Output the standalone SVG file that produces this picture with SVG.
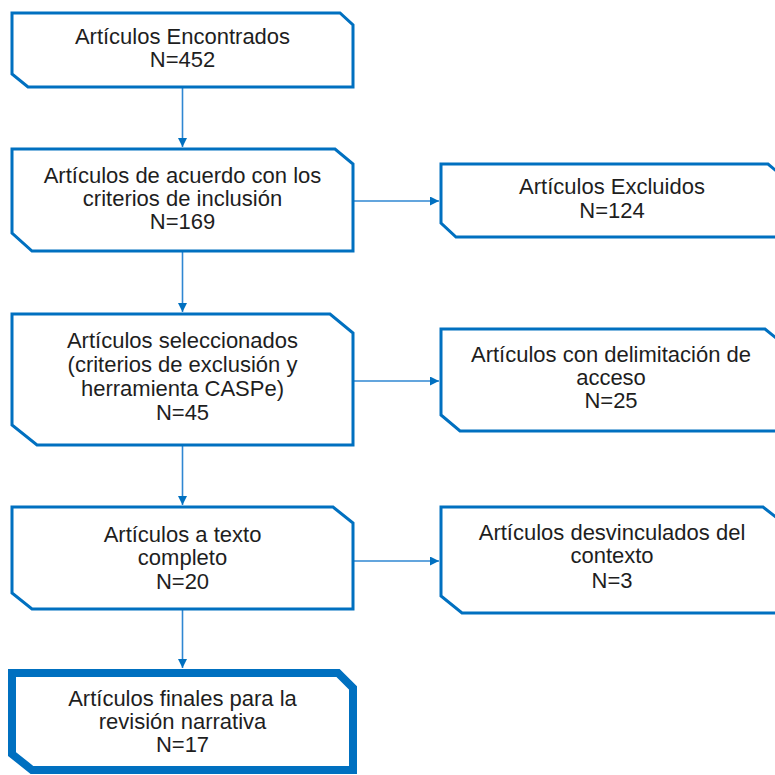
<svg xmlns="http://www.w3.org/2000/svg" width="775" height="775" viewBox="0 0 775 775">
<defs>
<style>
.box{fill:#ffffff;stroke:#0070C0;stroke-width:3;stroke-linejoin:miter}
.final{fill:#ffffff;stroke:#0070C0;stroke-width:8;stroke-linejoin:miter}
.conn{fill:none;stroke:#2F87D2;stroke-width:1.6}
text{font-family:"Liberation Sans",Arial,sans-serif;font-size:22px;fill:#1e1e1e;text-anchor:middle}
</style>
<marker id="arr" viewBox="0 0 10 10" refX="10" refY="5" markerWidth="10" markerHeight="9" markerUnits="userSpaceOnUse" orient="auto">
<path d="M0,0 L10,5 L0,10 z" fill="#0070C0"/>
</marker>
</defs>
<rect width="775" height="775" fill="#ffffff"/>
<g id="connectors">
<line class="conn" x1="182.5" y1="88" x2="182.5" y2="147" marker-end="url(#arr)"/>
<line class="conn" x1="182.5" y1="252" x2="182.5" y2="312" marker-end="url(#arr)"/>
<line class="conn" x1="182.5" y1="446" x2="182.5" y2="505" marker-end="url(#arr)"/>
<line class="conn" x1="182.5" y1="610" x2="182.5" y2="668" marker-end="url(#arr)"/>
<line class="conn" x1="354" y1="201" x2="439" y2="201" marker-end="url(#arr)"/>
<line class="conn" x1="354" y1="381" x2="439" y2="381" marker-end="url(#arr)"/>
<line class="conn" x1="354" y1="561" x2="439" y2="561" marker-end="url(#arr)"/>
</g>
<g id="n1">
<path class="box" d="M12,13 H340 L353,25 V87 H28 L12,74 Z"/>
<text x="182.5" y="44">Artículos Encontrados</text>
<text x="182.5" y="67">N=452</text>
</g>
<g id="n2">
<path class="box" d="M12,149 H335 L353,164 V251 H32 L12,233 Z"/>
<text x="182.5" y="183">Artículos de acuerdo con los</text>
<text x="182.5" y="206">criterios de inclusión</text>
<text x="182.5" y="229">N=169</text>
</g>
<g id="n3">
<path class="box" d="M441,164 H768 L786,179 V237 H456 L441,223 Z"/>
<text x="612" y="194">Artículos Excluidos</text>
<text x="612" y="218">N=124</text>
</g>
<g id="n4">
<path class="box" d="M12,314 H330 L353,333 V445 H37 L12,425 Z"/>
<text x="182.5" y="348">Artículos seleccionados</text>
<text x="182.5" y="372">(criterios de exclusión y</text>
<text x="182.5" y="396">herramienta CASPe)</text>
<text x="182.5" y="420">N=45</text>
</g>
<g id="n5">
<path class="box" d="M441,329 H765 L786,346 V431 H460 L441,415 Z"/>
<text x="611" y="362">Artículos con delimitación de</text>
<text x="611" y="385">acceso</text>
<text x="611" y="408">N=25</text>
</g>
<g id="n6">
<path class="box" d="M12,507 H333 L353,523 V609 H32 L12,593 Z"/>
<text x="182.5" y="542">Artículos a texto</text>
<text x="182.5" y="565">completo</text>
<text x="182.5" y="589">N=20</text>
</g>
<g id="n7">
<path class="box" d="M441,507 H763 L786,525 V613 H462 L441,596 Z"/>
<text x="612" y="540">Artículos desvinculados del</text>
<text x="612" y="563">contexto</text>
<text x="612" y="588">N=3</text>
</g>
<g id="n8">
<path class="final" d="M12,673 H338 L353,688 V770 H32 L12,754 Z"/>
<text x="182.5" y="706">Artículos finales para la</text>
<text x="182.5" y="729">revisión narrativa</text>
<text x="182.5" y="752">N=17</text>
</g>
</svg>
